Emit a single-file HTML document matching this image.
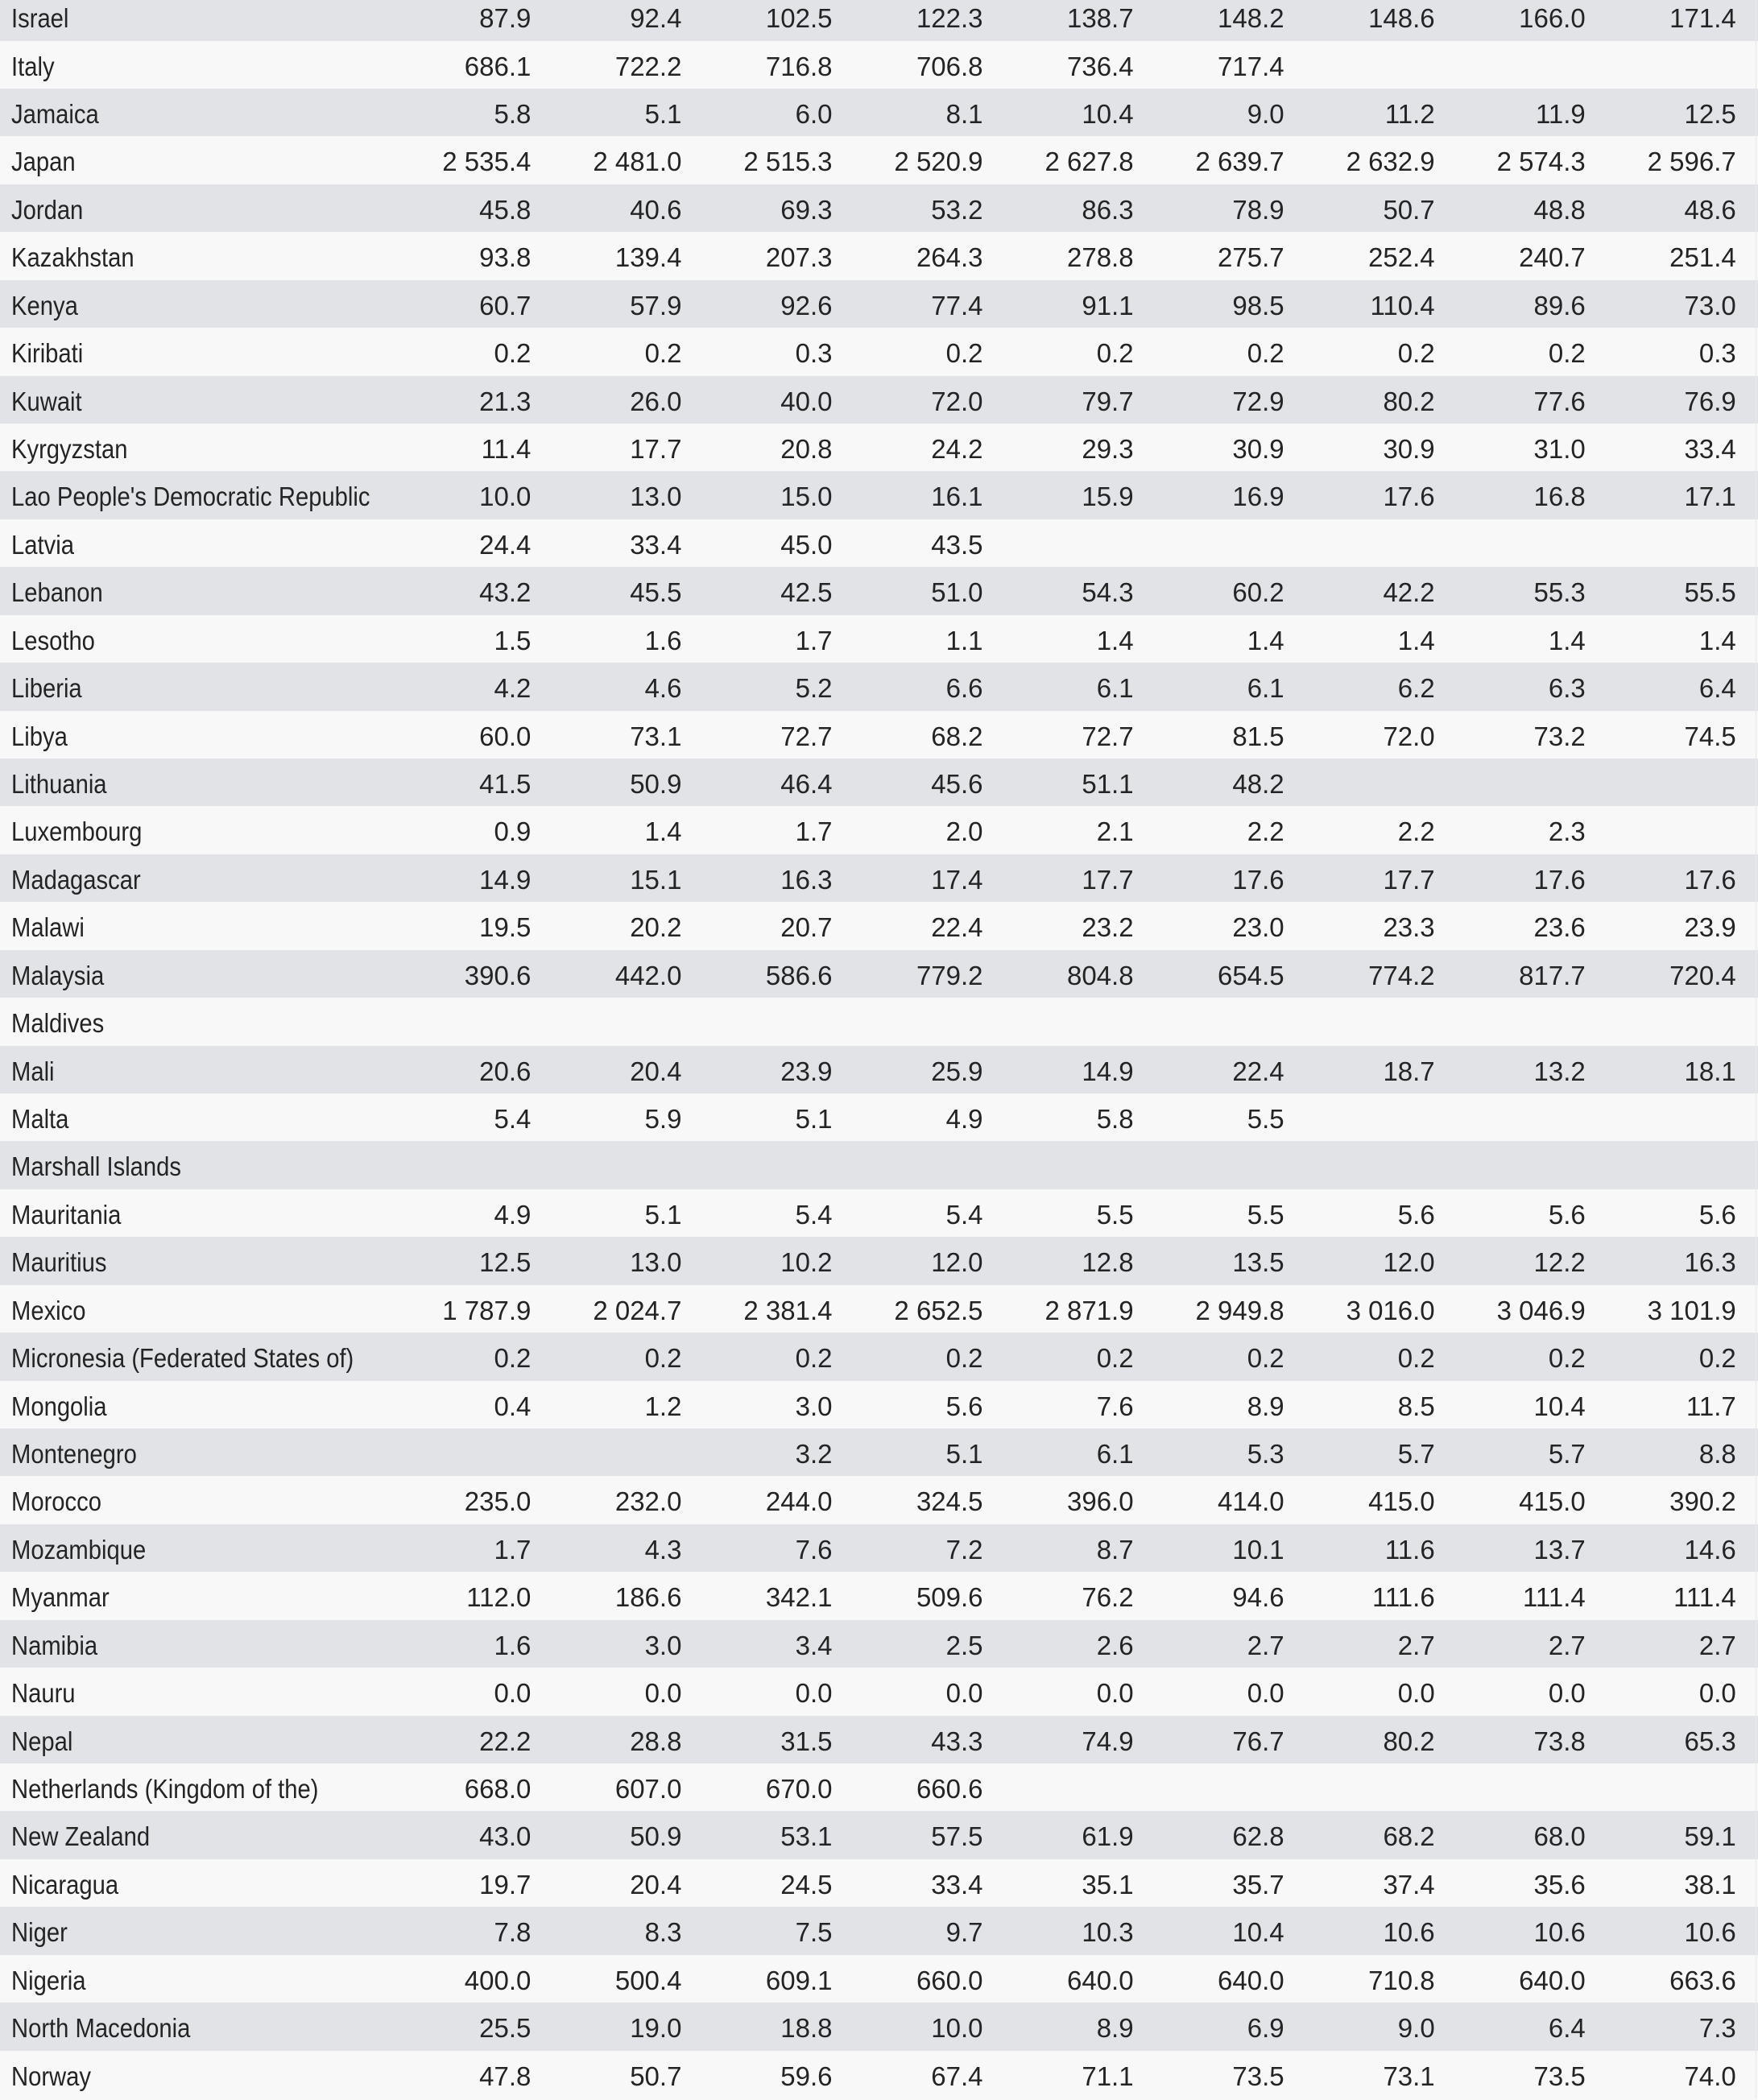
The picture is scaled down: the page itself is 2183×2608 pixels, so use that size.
<!DOCTYPE html>
<html>
<head>
<meta charset="utf-8">
<style>
  html, body { margin:0; padding:0; }
  body { width:2183px; height:2606px; overflow:hidden; background:#f8f8f8; position:relative;
         font-family:"Liberation Sans", sans-serif; color:#242424; }
  .r { position:absolute; left:0; width:2183px; height:59.43px; box-sizing:border-box; }
  .g { background:#e1e3e6; }
  .w { background:#f8f8f8; }
  .n { position:absolute; left:14px; top:2px; line-height:59.43px; font-size:33px; white-space:nowrap;
       transform:scaleX(0.885); transform-origin:left center; }
  .vals { position:absolute; left:472.35px; top:2px; display:grid; grid-template-columns:repeat(9,187.05px);
          line-height:59.43px; font-size:33px; }
  .vals span { text-align:right; white-space:nowrap; }
  .edge { position:absolute; top:0; left:2180px; width:1px; height:2606px; background:#e8e9eb; }
</style>
</head>
<body>
<div class="r g" style="top:-8.9px"><span class="n">Israel</span><div class="vals"><span>87.9</span><span>92.4</span><span>102.5</span><span>122.3</span><span>138.7</span><span>148.2</span><span>148.6</span><span>166.0</span><span>171.4</span></div></div>
<div class="r w" style="top:50.53px"><span class="n">Italy</span><div class="vals"><span>686.1</span><span>722.2</span><span>716.8</span><span>706.8</span><span>736.4</span><span>717.4</span><span></span><span></span><span></span></div></div>
<div class="r g" style="top:109.96px"><span class="n">Jamaica</span><div class="vals"><span>5.8</span><span>5.1</span><span>6.0</span><span>8.1</span><span>10.4</span><span>9.0</span><span>11.2</span><span>11.9</span><span>12.5</span></div></div>
<div class="r w" style="top:169.39px"><span class="n">Japan</span><div class="vals"><span>2 535.4</span><span>2 481.0</span><span>2 515.3</span><span>2 520.9</span><span>2 627.8</span><span>2 639.7</span><span>2 632.9</span><span>2 574.3</span><span>2 596.7</span></div></div>
<div class="r g" style="top:228.82px"><span class="n">Jordan</span><div class="vals"><span>45.8</span><span>40.6</span><span>69.3</span><span>53.2</span><span>86.3</span><span>78.9</span><span>50.7</span><span>48.8</span><span>48.6</span></div></div>
<div class="r w" style="top:288.25px"><span class="n">Kazakhstan</span><div class="vals"><span>93.8</span><span>139.4</span><span>207.3</span><span>264.3</span><span>278.8</span><span>275.7</span><span>252.4</span><span>240.7</span><span>251.4</span></div></div>
<div class="r g" style="top:347.68px"><span class="n">Kenya</span><div class="vals"><span>60.7</span><span>57.9</span><span>92.6</span><span>77.4</span><span>91.1</span><span>98.5</span><span>110.4</span><span>89.6</span><span>73.0</span></div></div>
<div class="r w" style="top:407.11px"><span class="n">Kiribati</span><div class="vals"><span>0.2</span><span>0.2</span><span>0.3</span><span>0.2</span><span>0.2</span><span>0.2</span><span>0.2</span><span>0.2</span><span>0.3</span></div></div>
<div class="r g" style="top:466.54px"><span class="n">Kuwait</span><div class="vals"><span>21.3</span><span>26.0</span><span>40.0</span><span>72.0</span><span>79.7</span><span>72.9</span><span>80.2</span><span>77.6</span><span>76.9</span></div></div>
<div class="r w" style="top:525.97px"><span class="n">Kyrgyzstan</span><div class="vals"><span>11.4</span><span>17.7</span><span>20.8</span><span>24.2</span><span>29.3</span><span>30.9</span><span>30.9</span><span>31.0</span><span>33.4</span></div></div>
<div class="r g" style="top:585.4px"><span class="n">Lao People's Democratic Republic</span><div class="vals"><span>10.0</span><span>13.0</span><span>15.0</span><span>16.1</span><span>15.9</span><span>16.9</span><span>17.6</span><span>16.8</span><span>17.1</span></div></div>
<div class="r w" style="top:644.83px"><span class="n">Latvia</span><div class="vals"><span>24.4</span><span>33.4</span><span>45.0</span><span>43.5</span><span></span><span></span><span></span><span></span><span></span></div></div>
<div class="r g" style="top:704.26px"><span class="n">Lebanon</span><div class="vals"><span>43.2</span><span>45.5</span><span>42.5</span><span>51.0</span><span>54.3</span><span>60.2</span><span>42.2</span><span>55.3</span><span>55.5</span></div></div>
<div class="r w" style="top:763.69px"><span class="n">Lesotho</span><div class="vals"><span>1.5</span><span>1.6</span><span>1.7</span><span>1.1</span><span>1.4</span><span>1.4</span><span>1.4</span><span>1.4</span><span>1.4</span></div></div>
<div class="r g" style="top:823.12px"><span class="n">Liberia</span><div class="vals"><span>4.2</span><span>4.6</span><span>5.2</span><span>6.6</span><span>6.1</span><span>6.1</span><span>6.2</span><span>6.3</span><span>6.4</span></div></div>
<div class="r w" style="top:882.55px"><span class="n">Libya</span><div class="vals"><span>60.0</span><span>73.1</span><span>72.7</span><span>68.2</span><span>72.7</span><span>81.5</span><span>72.0</span><span>73.2</span><span>74.5</span></div></div>
<div class="r g" style="top:941.98px"><span class="n">Lithuania</span><div class="vals"><span>41.5</span><span>50.9</span><span>46.4</span><span>45.6</span><span>51.1</span><span>48.2</span><span></span><span></span><span></span></div></div>
<div class="r w" style="top:1001.41px"><span class="n">Luxembourg</span><div class="vals"><span>0.9</span><span>1.4</span><span>1.7</span><span>2.0</span><span>2.1</span><span>2.2</span><span>2.2</span><span>2.3</span><span></span></div></div>
<div class="r g" style="top:1060.84px"><span class="n">Madagascar</span><div class="vals"><span>14.9</span><span>15.1</span><span>16.3</span><span>17.4</span><span>17.7</span><span>17.6</span><span>17.7</span><span>17.6</span><span>17.6</span></div></div>
<div class="r w" style="top:1120.27px"><span class="n">Malawi</span><div class="vals"><span>19.5</span><span>20.2</span><span>20.7</span><span>22.4</span><span>23.2</span><span>23.0</span><span>23.3</span><span>23.6</span><span>23.9</span></div></div>
<div class="r g" style="top:1179.7px"><span class="n">Malaysia</span><div class="vals"><span>390.6</span><span>442.0</span><span>586.6</span><span>779.2</span><span>804.8</span><span>654.5</span><span>774.2</span><span>817.7</span><span>720.4</span></div></div>
<div class="r w" style="top:1239.13px"><span class="n">Maldives</span></div>
<div class="r g" style="top:1298.56px"><span class="n">Mali</span><div class="vals"><span>20.6</span><span>20.4</span><span>23.9</span><span>25.9</span><span>14.9</span><span>22.4</span><span>18.7</span><span>13.2</span><span>18.1</span></div></div>
<div class="r w" style="top:1357.99px"><span class="n">Malta</span><div class="vals"><span>5.4</span><span>5.9</span><span>5.1</span><span>4.9</span><span>5.8</span><span>5.5</span><span></span><span></span><span></span></div></div>
<div class="r g" style="top:1417.42px"><span class="n">Marshall Islands</span></div>
<div class="r w" style="top:1476.85px"><span class="n">Mauritania</span><div class="vals"><span>4.9</span><span>5.1</span><span>5.4</span><span>5.4</span><span>5.5</span><span>5.5</span><span>5.6</span><span>5.6</span><span>5.6</span></div></div>
<div class="r g" style="top:1536.28px"><span class="n">Mauritius</span><div class="vals"><span>12.5</span><span>13.0</span><span>10.2</span><span>12.0</span><span>12.8</span><span>13.5</span><span>12.0</span><span>12.2</span><span>16.3</span></div></div>
<div class="r w" style="top:1595.71px"><span class="n">Mexico</span><div class="vals"><span>1 787.9</span><span>2 024.7</span><span>2 381.4</span><span>2 652.5</span><span>2 871.9</span><span>2 949.8</span><span>3 016.0</span><span>3 046.9</span><span>3 101.9</span></div></div>
<div class="r g" style="top:1655.14px"><span class="n">Micronesia (Federated States of)</span><div class="vals"><span>0.2</span><span>0.2</span><span>0.2</span><span>0.2</span><span>0.2</span><span>0.2</span><span>0.2</span><span>0.2</span><span>0.2</span></div></div>
<div class="r w" style="top:1714.57px"><span class="n">Mongolia</span><div class="vals"><span>0.4</span><span>1.2</span><span>3.0</span><span>5.6</span><span>7.6</span><span>8.9</span><span>8.5</span><span>10.4</span><span>11.7</span></div></div>
<div class="r g" style="top:1774px"><span class="n">Montenegro</span><div class="vals"><span></span><span></span><span>3.2</span><span>5.1</span><span>6.1</span><span>5.3</span><span>5.7</span><span>5.7</span><span>8.8</span></div></div>
<div class="r w" style="top:1833.43px"><span class="n">Morocco</span><div class="vals"><span>235.0</span><span>232.0</span><span>244.0</span><span>324.5</span><span>396.0</span><span>414.0</span><span>415.0</span><span>415.0</span><span>390.2</span></div></div>
<div class="r g" style="top:1892.86px"><span class="n">Mozambique</span><div class="vals"><span>1.7</span><span>4.3</span><span>7.6</span><span>7.2</span><span>8.7</span><span>10.1</span><span>11.6</span><span>13.7</span><span>14.6</span></div></div>
<div class="r w" style="top:1952.29px"><span class="n">Myanmar</span><div class="vals"><span>112.0</span><span>186.6</span><span>342.1</span><span>509.6</span><span>76.2</span><span>94.6</span><span>111.6</span><span>111.4</span><span>111.4</span></div></div>
<div class="r g" style="top:2011.72px"><span class="n">Namibia</span><div class="vals"><span>1.6</span><span>3.0</span><span>3.4</span><span>2.5</span><span>2.6</span><span>2.7</span><span>2.7</span><span>2.7</span><span>2.7</span></div></div>
<div class="r w" style="top:2071.15px"><span class="n">Nauru</span><div class="vals"><span>0.0</span><span>0.0</span><span>0.0</span><span>0.0</span><span>0.0</span><span>0.0</span><span>0.0</span><span>0.0</span><span>0.0</span></div></div>
<div class="r g" style="top:2130.58px"><span class="n">Nepal</span><div class="vals"><span>22.2</span><span>28.8</span><span>31.5</span><span>43.3</span><span>74.9</span><span>76.7</span><span>80.2</span><span>73.8</span><span>65.3</span></div></div>
<div class="r w" style="top:2190.01px"><span class="n">Netherlands (Kingdom of the)</span><div class="vals"><span>668.0</span><span>607.0</span><span>670.0</span><span>660.6</span><span></span><span></span><span></span><span></span><span></span></div></div>
<div class="r g" style="top:2249.44px"><span class="n">New Zealand</span><div class="vals"><span>43.0</span><span>50.9</span><span>53.1</span><span>57.5</span><span>61.9</span><span>62.8</span><span>68.2</span><span>68.0</span><span>59.1</span></div></div>
<div class="r w" style="top:2308.87px"><span class="n">Nicaragua</span><div class="vals"><span>19.7</span><span>20.4</span><span>24.5</span><span>33.4</span><span>35.1</span><span>35.7</span><span>37.4</span><span>35.6</span><span>38.1</span></div></div>
<div class="r g" style="top:2368.3px"><span class="n">Niger</span><div class="vals"><span>7.8</span><span>8.3</span><span>7.5</span><span>9.7</span><span>10.3</span><span>10.4</span><span>10.6</span><span>10.6</span><span>10.6</span></div></div>
<div class="r w" style="top:2427.73px"><span class="n">Nigeria</span><div class="vals"><span>400.0</span><span>500.4</span><span>609.1</span><span>660.0</span><span>640.0</span><span>640.0</span><span>710.8</span><span>640.0</span><span>663.6</span></div></div>
<div class="r g" style="top:2487.16px"><span class="n">North Macedonia</span><div class="vals"><span>25.5</span><span>19.0</span><span>18.8</span><span>10.0</span><span>8.9</span><span>6.9</span><span>9.0</span><span>6.4</span><span>7.3</span></div></div>
<div class="r w" style="top:2546.59px"><span class="n">Norway</span><div class="vals"><span>47.8</span><span>50.7</span><span>59.6</span><span>67.4</span><span>71.1</span><span>73.5</span><span>73.1</span><span>73.5</span><span>74.0</span></div></div>
<div class="edge"></div>
</body>
</html>
